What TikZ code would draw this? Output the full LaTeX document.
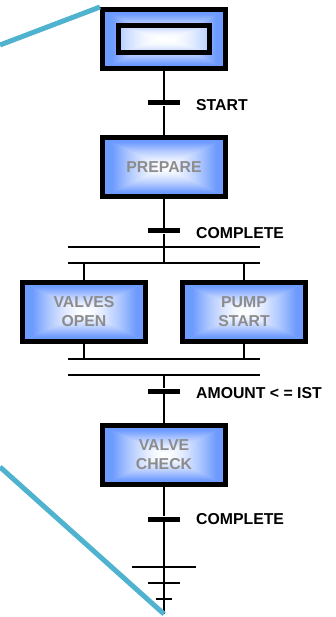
\documentclass[tikz,border=0pt]{standalone}
\usepackage{fontspec}
\setmainfont{Liberation Sans}
\usetikzlibrary{arrows.meta}

\definecolor{linkteal}{RGB}{79,179,207}
\definecolor{stepgray}{RGB}{140,140,140}

\pgfdeclarefunctionalshading{stepfill}{\pgfpoint{-50bp}{-50bp}}{\pgfpoint{50bp}{50bp}}{}{
    abs exch abs 2 copy lt {exch} if pop 21 div
    dup 1 gt {pop 1} if
    dup sqrt mul
    dup 0.569 mul 1 exch sub exch
    dup 0.392 mul 1 exch sub exch
    pop 1
}
\pgfdeclarefunctionalshading{innerfill}{\pgfpoint{-50bp}{-50bp}}{\pgfpoint{50bp}{50bp}}{}{
    abs exch abs 2 copy lt {exch} if pop 25 div
    dup 1 gt {pop 1} if
    dup mul
    dup 0.3 mul 1 exch sub exch
    dup 0.2 mul 1 exch sub exch
    pop 1
}

\tikzset{
    stepbox/.style={draw, line width=5pt, shading=stepfill, minimum width=123pt, minimum height=59pt, inner sep=0pt, align=center, text=stepgray, font=\bfseries\fontsize{15.8pt}{19pt}\selectfont},
    condbar/.style={fill, inner sep=0pt, minimum width=32pt, minimum height=5pt},
    syncbar/.style={fill, inner sep=0pt, minimum width=192pt, minimum height=2.4pt},
    condlabel/.style={anchor=west, inner sep=0pt, font=\bfseries\fontsize{15.8pt}{19pt}\selectfont},
    stem/.style={line width=2.2pt},
    link/.style={line width=5pt, linkteal}
}

\begin{document}
\begin{tikzpicture}[x=1pt, y=-1pt]
    \useasboundingbox (0, 0) rectangle (335, 617);

    \node[stepbox] (init) at (164, 39) {};
    \node[stepbox, shading=innerfill, minimum width=91pt, minimum height=27pt] (initinner) at (164, 39) {};
    \node[stepbox] (prepare) at (164, 167) {PREPARE};
    \node[stepbox] (valves) at (84, 311.5) {VALVES\\OPEN};
    \node[stepbox] (pump) at (244, 311.5) {PUMP\\START};
    \node[stepbox] (check) at (164, 455) {VALVE\\CHECK};

    \node[condbar] (start) at (164, 103) {};
    \node[condbar] (complete) at (164, 231) {};
    \node[condbar] (amount) at (164, 391) {};
    \node[condbar] (done) at (164, 519) {};

    \node[syncbar] (joinup) at (164, 247) {};
    \node[syncbar] (splitup) at (164, 263) {};
    \node[syncbar] (joindown) at (164, 359) {};
    \node[syncbar] (splitdown) at (164, 375) {};

    \node[syncbar, minimum width=64pt] (earth1) at (164, 567) {};
    \node[syncbar, minimum width=32pt] (earth2) at (164, 583) {};
    \node[syncbar, minimum width=16pt] (earth3) at (164, 599) {};

    \node[condlabel] (startlabel) at (196, 105) {START};
    \node[condlabel] (completelabel) at (196, 233) {COMPLETE};
    \node[condlabel] (amountlabel) at (196, 393) {AMOUNT < = IST};
    \node[condlabel] (donelabel) at (196, 519) {COMPLETE};

    \coordinate (tail) at (164, 614);
    \coordinate (linktop) at (0, 45);
    \coordinate (linkbottom) at (0, 467);

    \draw[stem] (init) -- (start);
    \draw[stem] (start) -- (prepare);
    \draw[stem] (prepare) -- (complete);
    \draw[stem] (complete) -- (joinup);
    \draw[stem] (joinup) -- (splitup);
    \draw[stem] (valves |- splitup) -- (valves);
    \draw[stem] (pump |- splitup) -- (pump);
    \draw[stem] (valves) -- (valves |- joindown);
    \draw[stem] (pump) -- (pump |- joindown);
    \draw[stem] (splitdown) -- (amount);
    \draw[stem] (amount) -- (check);
    \draw[stem] (check) -- (done);
    \draw[stem] (done) -- (earth1);
    \draw[stem] (earth1) -- (earth2);
    \draw[stem] (earth2) -- (earth3);
    \draw[stem] (earth3) -- (tail);

    \draw[link] (linktop) -- (init.north west);
    \draw[link] (linkbottom) -- (tail);
\end{tikzpicture}
\end{document}
